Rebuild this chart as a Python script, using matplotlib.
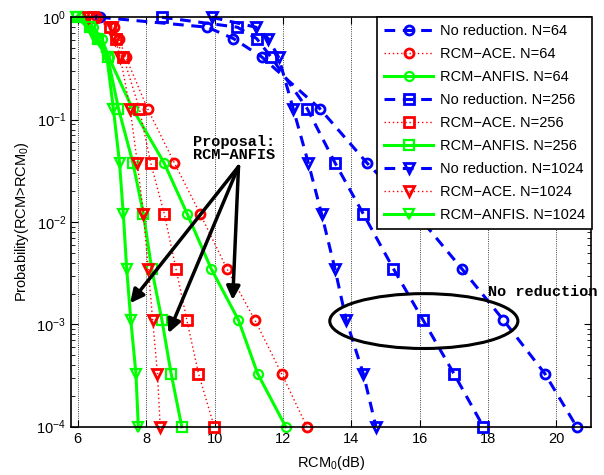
import numpy as np
import matplotlib
matplotlib.use('Agg')
import matplotlib.pyplot as plt
from matplotlib.patches import Ellipse

plt.rcParams['font.family'] = ['Liberation Sans', 'DejaVu Sans']
plt.rcParams['mathtext.fontset'] = 'custom'
plt.rcParams['mathtext.rm'] = 'Liberation Sans'
plt.rcParams['mathtext.it'] = 'Liberation Sans:italic'

# ---------------------------------------------------------------------------
# Data
# ---------------------------------------------------------------------------
prob = [1.0, 0.8, 0.62, 0.41, 0.128, 0.038, 0.012, 0.0035, 0.0011, 0.00033, 0.0001]

noRed_64   = [6.65, 9.79, 10.55, 11.38, 13.08, 14.45, 15.90, 17.23, 18.45, 19.66, 20.59]
ace_64     = [6.55, 7.05, 7.20, 7.40, 8.04, 8.82, 9.58, 10.36, 11.18, 11.96, 12.70]
anfis_64   = [6.10, 6.45, 6.70, 6.90, 7.60, 8.52, 9.20, 9.90, 10.70, 11.26, 12.08]

noRed_256  = [8.46, 10.67, 11.23, 11.65, 12.71, 13.52, 14.35, 15.23, 16.10, 17.00, 17.86]
ace_256    = [6.45, 6.95, 7.12, 7.33, 7.80, 8.13, 8.53, 8.87, 9.19, 9.53, 9.99]
anfis_256  = [6.00, 6.35, 6.60, 6.87, 7.19, 7.61, 7.92, 8.16, 8.46, 8.73, 9.04]

noRed_1024 = [9.92, 11.21, 11.57, 11.87, 12.30, 12.74, 13.13, 13.52, 13.85, 14.35, 14.72]
ace_1024   = [6.30, 7.00, 7.09, 7.24, 7.53, 7.74, 7.92, 8.06, 8.19, 8.33, 8.41]
anfis_1024 = [5.95, 6.30, 6.50, 6.85, 7.04, 7.22, 7.33, 7.43, 7.55, 7.70, 7.77]

series = [
    (noRed_64,   'No reduction. N=64',    'b', 'dash',  'o'),
    (ace_64,     'RCM\u2212ACE. N=64',    'r', 'dot',   'o'),
    (anfis_64,   'RCM\u2212ANFIS. N=64',  'g', 'solid', 'o'),
    (noRed_256,  'No reduction. N=256',   'b', 'dash',  's'),
    (ace_256,    'RCM\u2212ACE. N=256',   'r', 'dot',   's'),
    (anfis_256,  'RCM\u2212ANFIS. N=256', 'g', 'solid', 's'),
    (noRed_1024, 'No reduction. N=1024',  'b', 'dash',  'v'),
    (ace_1024,   'RCM\u2212ACE. N=1024',  'r', 'dot',   'v'),
    (anfis_1024, 'RCM\u2212ANFIS. N=1024','g', 'solid', 'v'),
]
colors = {'b': '#0000ff', 'r': '#ff0000', 'g': '#00ff00'}

# ---------------------------------------------------------------------------
# Plot
# ---------------------------------------------------------------------------
fig = plt.figure(figsize=(6.04, 4.75), dpi=100)
ax = fig.add_axes([0.1175, 0.1017, 0.8604, 0.8619])

for xs, label, c, style, mk in series:
    col = colors[c]
    if style == 'dash':
        ln, = ax.semilogy(xs, prob, color=col, lw=2.2, marker=mk, ms=6.5,
                          mfc='none', mec=col, mew=2, label=label, clip_on=False)
        ln.set_dashes((3.5, 2.5))
    elif style == 'dot':
        ax.semilogy(xs, prob, color=col, lw=1, ls=(0, (1, 2)), marker=mk, ms=6.5,
                    mfc='none', mec=col, mew=2, label=label, clip_on=False)
    else:
        ax.semilogy(xs, prob, color=col, lw=2.2, ls='-', marker=mk, ms=6.5,
                    mfc='none', mec=col, mew=1.6, label=label, clip_on=False)

ax.set_xlim(5.8, 21)
ax.set_ylim(1e-4, 1)
ax.set_xticks([6, 8, 10, 12, 14, 16, 18, 20])
ax.set_yticks([1e-4, 1e-3, 1e-2, 1e-1, 1e0])
ax.grid(True, axis='x', linestyle=':', color='k', lw=0.6)
ax.tick_params(which='both', direction='in', top=True, right=True, labelsize=10.5)
ax.tick_params(which='major', length=5)
ax.tick_params(which='minor', length=3)
for s in ax.spines.values():
    s.set_linewidth(1.2)

ax.set_xlabel('RCM$_0$(dB)', fontsize=10.5, labelpad=6)
ax.set_ylabel('Probability(RCM>RCM$_0$)', fontsize=10.5, labelpad=4)

# Annotations
mono = ['Liberation Mono', 'DejaVu Sans Mono']
ax.text(9.36, 0.0523, 'Proposal:\nRCM\u2212ANFIS', family=mono, fontsize=11,
        fontweight='bold', ha='left', va='center', linespacing=0.95)
start = (10.70, 0.0348)
tips = [(7.53, 1.61e-3), (8.65, 8.2e-4), (10.53, 1.73e-3)]
for tip in tips:
    ax.annotate('', xy=tip, xytext=start,
                arrowprops=dict(arrowstyle='-|>', color='k', lw=2.5,
                                mutation_scale=20, shrinkA=0, shrinkB=0))

ax.add_patch(Ellipse((0.679, 0.258), 0.362, 0.134, transform=ax.transAxes,
                     fill=False, edgecolor='k', lw=2.2, zorder=5))
ax.text(18.0, 2.05e-3, 'No reduction', family=mono, fontsize=11,
        fontweight='bold', ha='left', va='center', clip_on=False)

leg = ax.legend(loc='upper right', bbox_to_anchor=(1.002, 1.0), borderaxespad=0,
                fontsize=10.5, handlelength=3.4, handletextpad=0.45,
                labelspacing=0.62, borderpad=0.45, fancybox=False,
                framealpha=1, edgecolor='k')
leg.get_frame().set_linewidth(1.2)

plt.savefig('out.png', dpi=100)
plt.close()
